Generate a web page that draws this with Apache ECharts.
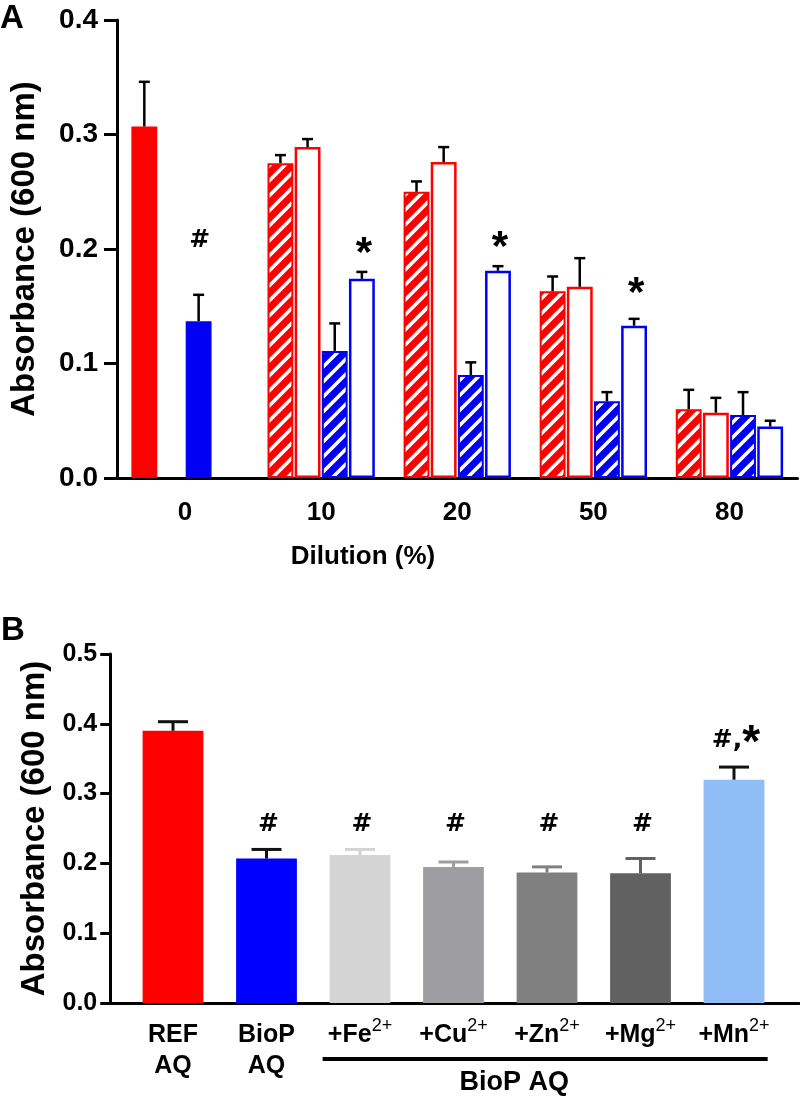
<!DOCTYPE html>
<html><head><meta charset="utf-8">
<script src="https://cdn.jsdelivr.net/npm/echarts@6/dist/echarts.min.js"></script>
<style>html,body{margin:0;padding:0;background:#fff}#c{width:800px;height:1096px}</style>
</head><body><div id="c"></div>
<script>
// ---------- Panel A data ----------
const catsA = ['0', '10', '20', '50', '80'];
const yTicksA = [0, 0.1, 0.2, 0.3, 0.4];
// slot 1: red hatched (category "0": solid red REF)
const redHatch    = [0.307, 0.275, 0.250, 0.163, 0.060];
const redHatchErr = [0.039, 0.007, 0.009, 0.013, 0.017];
// slot 2: red open
const redOpen     = [null, 0.289, 0.276, 0.167, 0.057];
const redOpenErr  = [null, 0.007, 0.013, 0.025, 0.013];
// slot 3: blue hatched (category "0": solid blue)
const blueHatch    = [0.137, 0.111, 0.090, 0.067, 0.055];
const blueHatchErr = [0.023, 0.024, 0.011, 0.008, 0.020];
// slot 4: blue open
const blueOpen     = [null, 0.174, 0.181, 0.133, 0.045];
const blueOpenErr  = [null, 0.006, 0.004, 0.006, 0.005];
// annotations: [category index, slot, text, level]
const annotA = [[0, 2, '#', 0.208], [1, 3, '*', 0.203], [2, 3, '*', 0.209], [3, 3, '*', 0.168]];

// ---------- Panel B data ----------
const catsB = ['REF\nAQ', 'BioP\nAQ', '+Fe2+', '+Cu2+', '+Zn2+', '+Mg2+', '+Mn2+'];
const yTicksB = [0, 0.1, 0.2, 0.3, 0.4, 0.5];
const valuesB = [0.390, 0.207, 0.212, 0.195, 0.187, 0.186, 0.320];
const errB    = [0.013, 0.013, 0.008, 0.007, 0.008, 0.021, 0.018];
const colorsB = ['#ff0000', '#0000ff', '#d4d4d4', '#9e9ea2', '#808080', '#616161', '#90bdf5'];
const errColorsB = ['#111111', '#111111', '#d4d4d4', '#9e9ea2', '#808080', '#616161', '#111111'];
const annotB = ['', '#', '#', '#', '#', '#', '#,*'];
const annotLevelB = [null, 0.256, 0.256, 0.256, 0.256, 0.256, 0.381];
const groupLabelB = 'BioP AQ';

const FONT = '"Liberation Sans", Arial, Helvetica, sans-serif';
const HASH = '"DejaVu Sans", "Liberation Sans", Arial, sans-serif';
const NARROW = '"Liberation Sans Narrow", "Arial Narrow", "Liberation Sans", Arial, sans-serif';
const RED = '#ff0000', BLUE = '#0000f5';

function hatch(bg) {
  const s = 15;
  const c = document.createElement('canvas');
  c.width = s; c.height = s;
  const g = c.getContext('2d');
  g.fillStyle = bg; g.fillRect(0, 0, s, s);
  g.strokeStyle = '#ffffff'; g.lineWidth = 3.6;
  g.beginPath();
  g.moveTo(-3, s + 3); g.lineTo(s + 3, -3);
  g.moveTo(-3, 3); g.lineTo(3, -3);
  g.moveTo(s - 3, s + 3); g.lineTo(s + 3, s - 3);
  g.stroke();
  return { image: c, repeat: 'repeat' };
}

const BW = 0.19, GAP = 0.05, STEP = BW * (1 + GAP);

function barSeriesA(name, vals, style, cat0Style) {
  return {
    type: 'bar', name, xAxisIndex: 0, yAxisIndex: 0,
    barWidth: (BW * 100) + '%', barGap: (GAP * 100) + '%',
    data: vals.map((v, i) => (i === 0 && cat0Style && v != null) ? { value: v, itemStyle: cat0Style } : v),
    itemStyle: style, z: 2, animation: false
  };
}

const errDataA = [];
[[redHatch, redHatchErr], [redOpen, redOpenErr], [blueHatch, blueHatchErr], [blueOpen, blueOpenErr]].forEach((pair, slot) => {
  pair[0].forEach((v, i) => { if (v != null) errDataA.push([i, v, pair[1][i], slot]); });
});

const chart = echarts.init(document.getElementById('c'), null, { renderer: 'canvas' });

const staticGraphic = [
  { type: 'text', left: 0, top: 2, style: { text: 'A', fontFamily: FONT, fontWeight: 'bold', fontSize: 33, fill: '#000' } },
  { type: 'text', left: 1, top: 614, style: { text: 'B', fontFamily: FONT, fontWeight: 'bold', fontSize: 33, fill: '#000' } },
  { type: 'text', x: 363, y: 557, style: { text: 'Dilution (%)', fontFamily: NARROW, fontWeight: 'bold', fontSize: 26, fill: '#000', align: 'center', verticalAlign: 'middle' } }
];

const option = {
  animation: false,
  backgroundColor: '#ffffff',
  grid: [
    { left: 110, top: 20, width: 687.5, height: 458 },
    { left: 126.25, top: 654, width: 654.5, height: 349 },
    { left: 110, top: 654, width: 689, height: 349 }
  ],
  xAxis: [
    {
      type: 'category', gridIndex: 0, data: catsA,
      axisLine: { lineStyle: { color: '#000', width: 3 } },
      axisTick: { alignWithLabel: true, length: 13, lineStyle: { color: '#000', width: 3 } },
      axisLabel: { color: '#000', fontFamily: NARROW, fontWeight: 'bold', fontSize: 26, margin: 22 }
    },
    {
      type: 'category', gridIndex: 1, data: catsB,
      axisLine: { lineStyle: { color: '#000', width: 3 } },
      axisTick: { alignWithLabel: true, length: 10, lineStyle: { color: '#000', width: 3 } },
      axisLabel: {
        color: '#000', margin: 14, interval: 0,
        formatter: function (v) {
          const m = v.match(/^(\+[A-Za-z]+)(\d\+)$/);
          if (m) return '{m|' + m[1] + '}{s|' + m[2] + '}';
          return v.split('\n').map(t => '{m|' + t + '}').join('\n');
        },
        rich: {
          m: { fontFamily: FONT, fontWeight: 'bold', fontSize: 25, lineHeight: 31, color: '#000', verticalAlign: 'bottom' },
          s: { fontFamily: FONT, fontWeight: 'normal', fontSize: 18, lineHeight: 16, color: '#000', verticalAlign: 'top' }
        }
      }
    },
    {
      type: 'value', gridIndex: 2, min: 0, max: 1,
      axisLine: { show: true, lineStyle: { color: '#000', width: 3 } },
      axisTick: { show: false }, axisLabel: { show: false }, splitLine: { show: false }
    }
  ],
  yAxis: [
    {
      type: 'value', gridIndex: 0, min: yTicksA[0], max: yTicksA[yTicksA.length - 1], interval: 0.1,
      splitLine: { show: false },
      axisLine: { show: true, lineStyle: { color: '#000', width: 3 } },
      axisTick: { show: true, length: 13, lineStyle: { color: '#000', width: 3 } },
      axisLabel: { color: '#000', fontFamily: FONT, fontWeight: 'bold', fontSize: 28, margin: 19, formatter: v => v.toFixed(1) },
      name: 'Absorbance (600 nm)', nameLocation: 'middle', nameRotate: 90, nameGap: 76,
      nameTextStyle: { color: '#000', fontFamily: FONT, fontWeight: 'bold', fontSize: 33 }
    },
    {
      type: 'value', gridIndex: 1, min: yTicksB[0], max: yTicksB[yTicksB.length - 1], interval: 0.1, offset: 16,
      splitLine: { show: false },
      axisLine: { show: true, lineStyle: { color: '#000', width: 3 } },
      axisTick: { show: true, length: 10, lineStyle: { color: '#000', width: 3 } },
      axisLabel: { color: '#000', fontFamily: FONT, fontWeight: 'bold', fontSize: 25, margin: 13, formatter: v => v.toFixed(1) },
      name: 'Absorbance (600 nm)', nameLocation: 'middle', nameRotate: 90, nameGap: 50,
      nameTextStyle: { color: '#000', fontFamily: FONT, fontWeight: 'bold', fontSize: 33 }
    },
    { type: 'value', gridIndex: 2, min: 0, max: 1, show: false }
  ],
  series: [
    barSeriesA('redHatch', redHatch, { color: hatch(RED), borderColor: RED, borderWidth: 2 }, { color: RED, borderColor: RED, borderWidth: 0 }),
    barSeriesA('redOpen', redOpen, { color: '#ffffff', borderColor: RED, borderWidth: 2.5 }),
    barSeriesA('blueHatch', blueHatch, { color: hatch(BLUE), borderColor: BLUE, borderWidth: 2 }, { color: BLUE, borderColor: BLUE, borderWidth: 0 }),
    barSeriesA('blueOpen', blueOpen, { color: '#ffffff', borderColor: BLUE, borderWidth: 2.5 }),
    {
      type: 'custom', name: 'errA', xAxisIndex: 0, yAxisIndex: 0, z: 5, data: errDataA,
      encode: { x: 0, y: 1 },
      renderItem: function (params, api) {
        const ci = api.value(0), v = api.value(1), e = api.value(2), slot = api.value(3);
        const band = api.size([1, 0])[0];
        const p0 = api.coord([ci, v]), p1 = api.coord([ci, v + e]);
        const x = p0[0] + (slot - 1.5) * STEP * band;
        return { type: 'group', children: [
          { type: 'line', shape: { x1: x, y1: p0[1], x2: x, y2: p1[1] }, style: { stroke: '#000', lineWidth: 2.5 } },
          { type: 'line', shape: { x1: x - 5.5, y1: p1[1], x2: x + 5.5, y2: p1[1] }, style: { stroke: '#000', lineWidth: 2.5 } }
        ] };
      }
    },
    {
      type: 'custom', name: 'annotA', xAxisIndex: 0, yAxisIndex: 0, z: 5,
      data: annotA.map(a => [a[0], a[3]]), encode: { x: 0, y: 1 },
      renderItem: function (params, api) {
        const a = annotA[params.dataIndex];
        const band = api.size([1, 0])[0];
        const p = api.coord([a[0], a[3]]);
        const isStar = a[2] === '*';
        const fs = isStar ? 42 : 25;
        return { type: 'text', x: p[0] + (a[1] - 1.5) * STEP * band + (isStar ? 2 : 1), y: p[1] + (isStar ? fs * 0.22 : 1),
          style: { text: a[2], fontFamily: isStar ? FONT : HASH, fontWeight: 'bold', fontSize: fs, fill: '#000', align: 'center', verticalAlign: 'middle' } };
      }
    },
    {
      type: 'bar', name: 'B', xAxisIndex: 1, yAxisIndex: 1, barWidth: '65%', z: 2,
      data: valuesB.map((v, i) => ({ value: v, itemStyle: { color: colorsB[i] } }))
    },
    {
      type: 'custom', name: 'errB', xAxisIndex: 1, yAxisIndex: 1, z: 5,
      data: valuesB.map((v, i) => [i, v, errB[i]]), encode: { x: 0, y: 1 },
      renderItem: function (params, api) {
        const ci = api.value(0), v = api.value(1), e = api.value(2);
        const p0 = api.coord([ci, v]), p1 = api.coord([ci, v + e]);
        const col = errColorsB[params.dataIndex];
        return { type: 'group', children: [
          { type: 'line', shape: { x1: p0[0], y1: p0[1], x2: p0[0], y2: p1[1] }, style: { stroke: col, lineWidth: 3 } },
          { type: 'line', shape: { x1: p0[0] - 15, y1: p1[1], x2: p0[0] + 15, y2: p1[1] }, style: { stroke: col, lineWidth: 3 } }
        ] };
      }
    },
    {
      type: 'custom', name: 'annotB', xAxisIndex: 1, yAxisIndex: 1, z: 5,
      data: annotLevelB.map((l, i) => [i, l == null ? 0 : l]), encode: { x: 0, y: 1 },
      renderItem: function (params, api) {
        const t = annotB[params.dataIndex];
        if (!t) return null;
        const p = api.coord([api.value(0), api.value(1)]);
        if (t.indexOf('*') >= 0) {
          return { type: 'text', x: p[0] + 2, y: p[1],
            style: { text: '{h|#,}{st|*}', align: 'center', verticalAlign: 'middle', fill: '#000',
              rich: { h: { fontFamily: HASH, fontWeight: 'bold', fontSize: 25, fill: '#000', verticalAlign: 'bottom', lineHeight: 32 },
                      st: { fontFamily: FONT, fontWeight: 'bold', fontSize: 46, fill: '#000', verticalAlign: 'top', lineHeight: 32 } } } };
        }
        return { type: 'text', x: p[0] + 2, y: p[1],
          style: { text: t, fontFamily: HASH, fontWeight: 'bold', fontSize: 25, fill: '#000', align: 'center', verticalAlign: 'middle' } };
      }
    }
  ],
  graphic: staticGraphic
};
chart.setOption(option);

// bracket under the metal-supplemented groups, positioned from the axis
const iFirst = 2, iLast = catsB.length - 1;
const xF = chart.convertToPixel({ xAxisIndex: 1 }, iFirst);
const xL = chart.convertToPixel({ xAxisIndex: 1 }, iLast);
const band = (xL - xF) / (iLast - iFirst);
const yAxis0 = chart.convertToPixel({ yAxisIndex: 1 }, 0);
chart.setOption({
  graphic: staticGraphic.concat([
    { type: 'line', shape: { x1: xF - 0.4 * band, y1: yAxis0 + 56, x2: xL + 0.36 * band, y2: yAxis0 + 56 }, style: { stroke: '#000', lineWidth: 4 } },
    { type: 'text', x: (xF + xL) / 2 - 0.35 * band, y: yAxis0 + 80, style: { text: groupLabelB, fontFamily: FONT, fontWeight: 'bold', fontSize: 27, fill: '#000', align: 'center', verticalAlign: 'middle' } }
  ])
});
</script>
</body></html>
